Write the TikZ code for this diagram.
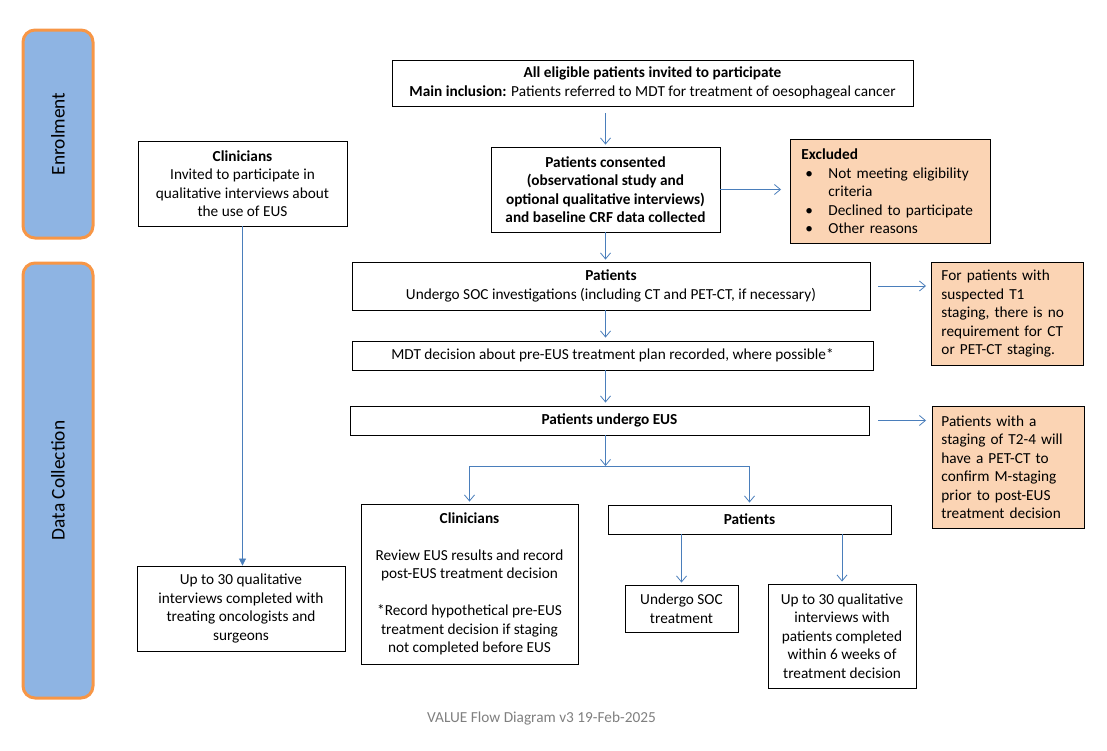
\documentclass[tikz,border=0pt]{standalone}
\usepackage{fontspec}
\setmainfont{Carlito}
\usetikzlibrary{arrows.meta,calc}
\definecolor{lanefill}{HTML}{8EB4E3}
\definecolor{laneedge}{HTML}{F79646}
\definecolor{peach}{HTML}{FBD4B4}
\definecolor{arrowblue}{HTML}{4A7EBB}
\definecolor{footgray}{HTML}{7F7F7F}
\begin{document}
\begin{tikzpicture}[x=1pt,y=-1pt,
  every node/.style={font=\fontsize{15.3}{18.5}\selectfont},
  box/.style={draw=black, line width=0.9pt, fill=white, inner sep=0pt, align=center},
  note/.style={draw=black, line width=0.9pt, fill=peach, inner ysep=0pt, align=left, anchor=north west},
  lane/.style={draw=laneedge, line width=3pt, fill=lanefill, rounded corners=12pt, inner sep=0pt, rotate=90, font=\fontsize{19.4}{23}\selectfont},
  arr/.style={draw=arrowblue, line width=0.8pt, -{Straight Barb[length=6pt,width=10pt]}},
  plain/.style={draw=arrowblue, line width=0.8pt},
  ]
\useasboundingbox (0,0) rectangle (1107,750);

% lanes
\node[lane, minimum width=208pt, minimum height=70pt] (enrol) at (58,134) {Enrolment};
\node[lane, minimum width=435pt, minimum height=70pt] (datacol) at (58,480.5) {Data Collection};

% main column
\node[box, minimum width=521pt, minimum height=46pt] (incl) at (652.5,83)
  {\textbf{All eligible patients invited to participate}\\\textbf{Main inclusion:} Patients referred to MDT for treatment of oesophageal cancer};
\node[box, minimum width=229pt, minimum height=85pt] (consent) at (605.5,189.5)
  {\textbf{Patients consented}\\\textbf{(observational study and}\\\textbf{optional qualitative interviews)}\\\textbf{and baseline CRF data collected}};
\node[note, fill=peach, minimum width=200pt, minimum height=104pt, inner xsep=11pt, text width=178pt] (excl) at (790,139)
  {\textbf{Excluded}\\
   \makebox[27pt][l]{\hspace{4pt}\textbullet}Not meeting eligibility\\
   \hspace*{27pt}criteria\\
   \makebox[27pt][l]{\hspace{4pt}\textbullet}Declined to participate\\
   \makebox[27pt][l]{\hspace{4pt}\textbullet}Other reasons};
\node[box, minimum width=518pt, minimum height=48pt] (soc) at (611,286)
  {\textbf{Patients}\\Undergo SOC investigations (including CT and PET-CT, if necessary)};
\node[note, minimum width=152pt, minimum height=103pt, inner xsep=10pt, text width=132pt] (t1) at (931,262)
  {For patients with\\suspected T1\\staging, there is no\\requirement for CT\\or PET-CT staging.};
\node[box, minimum width=521pt, minimum height=29pt] (mdt) at (612.5,355.5)
  {MDT decision about pre-EUS treatment plan recorded, where possible*};
\node[box, minimum width=519pt, minimum height=29pt] (eus) at (609.5,420.5)
  {\textbf{Patients undergo EUS}};
\node[note, minimum width=152pt, minimum height=122pt, inner xsep=9pt, text width=134pt] (t24) at (932,406)
  {Patients with a\\staging of T2-4 will\\have a PET-CT to\\confirm M-staging\\prior to post-EUS\\treatment decision};
\node[box, minimum width=217pt, minimum height=160pt] (clin2) at (469.5,584)
  {\textbf{Clinicians}\\[18.5pt]Review EUS results and record\\post-EUS treatment decision\\[18.5pt]*Record hypothetical pre-EUS\\treatment decision if staging\\not completed before EUS};
\node[box, minimum width=283pt, minimum height=29pt] (pat2) at (749.5,519.5)
  {\textbf{Patients}};
\node[box, minimum width=113pt, minimum height=47pt] (soc2) at (681.5,608.5)
  {Undergo SOC\\treatment};
\node[box, minimum width=148pt, minimum height=104pt] (up30p) at (842,636)
  {Up to 30 qualitative\\interviews with\\patients completed\\within 6 weeks of\\treatment decision};

% clinician column
\node[box, minimum width=209pt, minimum height=85pt] (clin1) at (242.5,183.5)
  {\textbf{Clinicians}\\Invited to participate in\\qualitative interviews about\\the use of EUS};
\node[box, minimum width=208pt, minimum height=85pt] (clin1b) at (241,608.5)
  {Up to 30 qualitative\\interviews completed with\\treating oncologists and\\surgeons};

% footer
\node[text=footgray] (footer) at (541.5,718) {VALUE Flow Diagram v3 19-Feb-2025};

% connectors
\draw[arr, shorten <=7pt, shorten >=2pt] (consent.north |- incl.south) -- (consent.north);
\draw[arr, shorten >=2pt] (consent.south) -- (consent.south |- soc.north);
\draw[arr, shorten >=3pt] (consent.south |- soc.south) -- (consent.south |- mdt.north);
\draw[arr, shorten >=3pt] (consent.south |- mdt.south) -- (consent.south |- eus.north);
\coordinate (junc) at (605.5,466);
\coordinate (jl) at (clin2.north |- junc);
\coordinate (jr) at (pat2.north |- junc);
\draw[arr] (consent.south |- eus.south) -- (junc);
\draw[plain] (jl) -- (jr);
\draw[arr, shorten >=2pt] (jl) -- (clin2.north);
\draw[arr, shorten >=2pt] (jr) -- (pat2.north);
\draw[arr, shorten >=2pt] (pat2.south -| soc2.north) -- (soc2.north);
\draw[arr, shorten >=2pt] (pat2.south -| up30p.north) -- (up30p.north);
\draw[arr, shorten >=9pt] (consent.east) -- (consent.east -| excl.west);
\draw[arr, shorten <=8pt, shorten >=5pt] (soc.east) -- (soc.east -| t1.west);
\draw[arr, shorten <=9pt, shorten >=6pt] (eus.east) -- (eus.east -| t24.west);
\draw[plain, -{Triangle[length=7pt,width=7pt]}] (clin1.south) -- (clin1.south |- clin1b.north);
\end{tikzpicture}
\end{document}
